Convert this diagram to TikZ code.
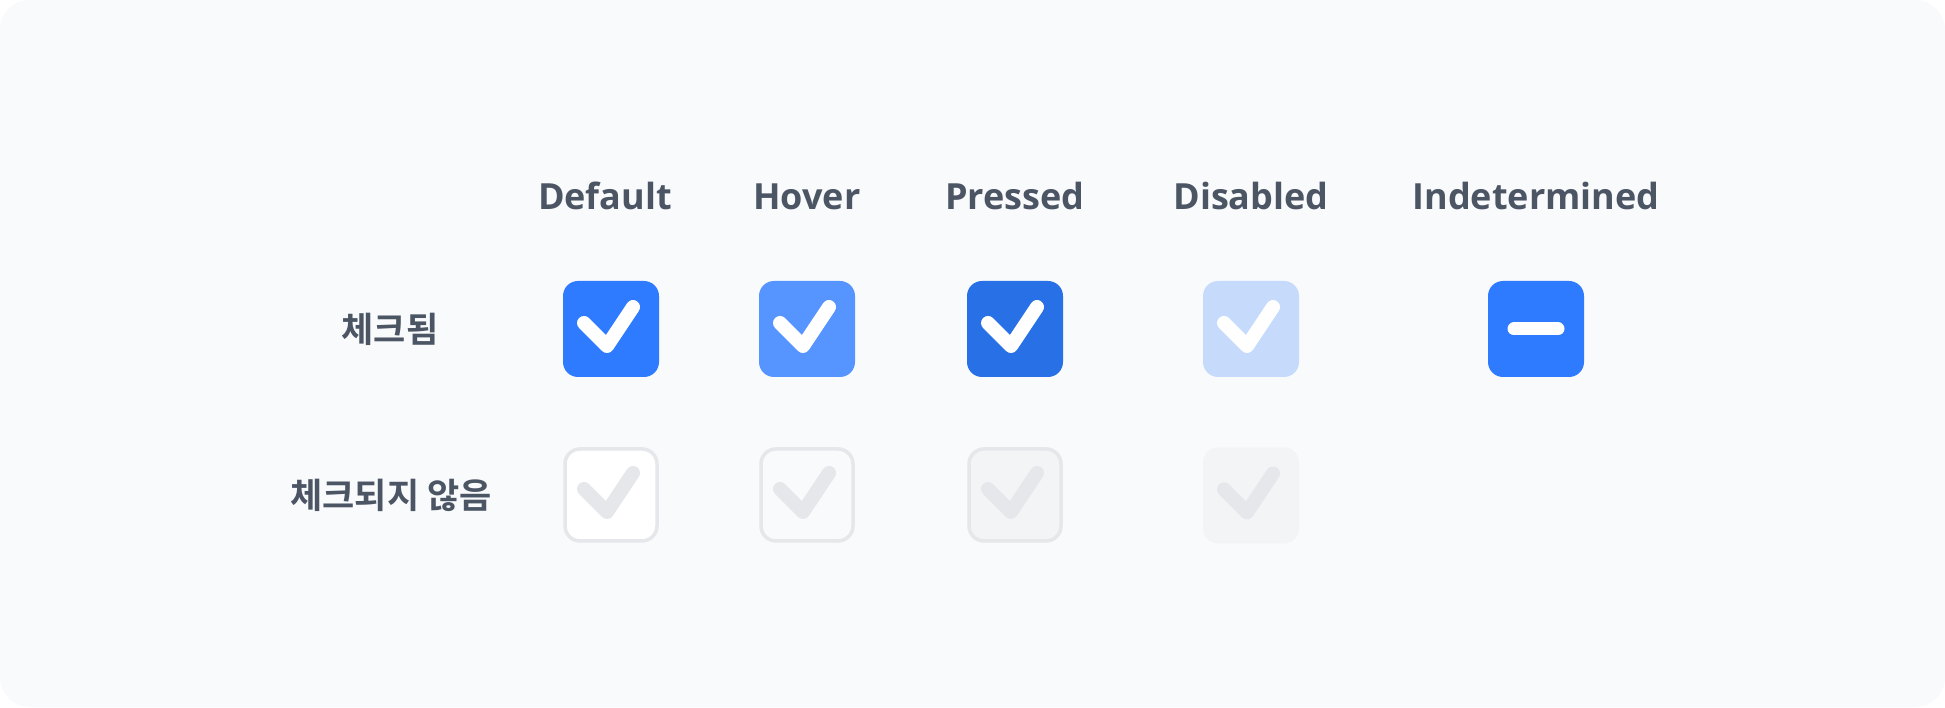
\documentclass[tikz,border=0pt]{standalone}
\usepackage{fontspec}
\IfFontExistsTF{Open Sans Bold}{\newfontfamily\hfont{Open Sans Bold}}{\newfontfamily\hfont{Noto Sans}[FakeBold=2.5]}
\IfFontExistsTF{Noto Sans CJK KR Bold}{\newfontfamily\kofont{Noto Sans CJK KR Bold}}{\newfontfamily\kofont{Noto Sans CJK KR}[FakeBold=4]}
\usepackage{tikz}
\usetikzlibrary{positioning}
\definecolor{bgcol}{HTML}{F8FAFC}
\definecolor{labcol}{HTML}{4B5563}
\definecolor{chkdef}{HTML}{2E7BFF}
\definecolor{chkhov}{HTML}{5694FF}
\definecolor{chkpre}{HTML}{2870E6}
\definecolor{chkdis}{HTML}{C6DAFC}
\definecolor{offline}{HTML}{E5E7EB}
\definecolor{offfill}{HTML}{F3F4F6}
\newcommand{\tickmark}[2]{\draw[tick,#2] ([shift={(-27,6)}]#1.center) -- ([shift={(-4,-17)}]#1.center) -- ([shift={(22,22)}]#1.center);}

\begin{document}
\begin{tikzpicture}[x=1pt,y=1pt]
  \tikzstyle{box} = [rectangle,minimum size=96pt,inner sep=0pt,rounded corners=15pt];
  \tikzstyle{offbox} = [box,minimum size=92pt,draw=offline,line width=3.5pt];
  \tikzstyle{head} = [inner sep=0pt,text height=26pt,text depth=0pt,text=labcol,font=\hfont\fontsize{36}{40}\selectfont];
  \tikzset{rowlab/.style={inner sep=0pt,text=labcol,font=\kofont\fontsize{35}{40}\selectfont},
    tick/.style={white,line width=14pt,line cap=round,line join=round},
    bar/.style={white,line width=13pt,line cap=round}};
  % background panel
  \fill[white] (0,0) rectangle (1945,707);
  \fill[bgcol,rounded corners=30pt] (0,0) rectangle (1945,707);
  % checked row
  \node[box,fill=chkdef] (d1) at (611,378) {};
  \node[box,fill=chkhov] (h1) at (807,378) {};
  \node[box,fill=chkpre] (p1) at (1015,378) {};
  \node[box,fill=chkdis] (x1) at (1251,378) {};
  \node[box,fill=chkdef] (i1) at (1536,378) {};
  % unchecked row
  \node[offbox,fill=white,below=70pt of d1] (d2) {};
  \node[offbox,fill=bgcol,below=70pt of h1] (h2) {};
  \node[offbox,fill=offfill,below=70pt of p1] (p2) {};
  \node[box,fill=offfill,below=70pt of x1] (x2) {};
  \foreach \n in {d1,h1,p1,x1} {\tickmark{\n}{}}
  \foreach \n in {d2,h2,p2,x2} {\tickmark{\n}{offline}}
  \draw[bar] ([xshift=-22pt]i1.center) -- ([xshift=22pt]i1.center);
  % headings
  \node[head,above=71pt of d1,xshift=-6pt] (hdef) {Default};
  \node[head,above=71pt of h1] (hhov) {Hover};
  \node[head,above=71pt of p1] (hpre) {Pressed};
  \node[head,above=71pt of x1] (hdis) {Disabled};
  \node[head,above=71pt of i1] (hind) {Indetermined};
  \node[rowlab] (lon) at (390,378) {체크됨};
  \node[rowlab] (loff) at (391,212) {체크되지 않음};
\end{tikzpicture}
\end{document}
